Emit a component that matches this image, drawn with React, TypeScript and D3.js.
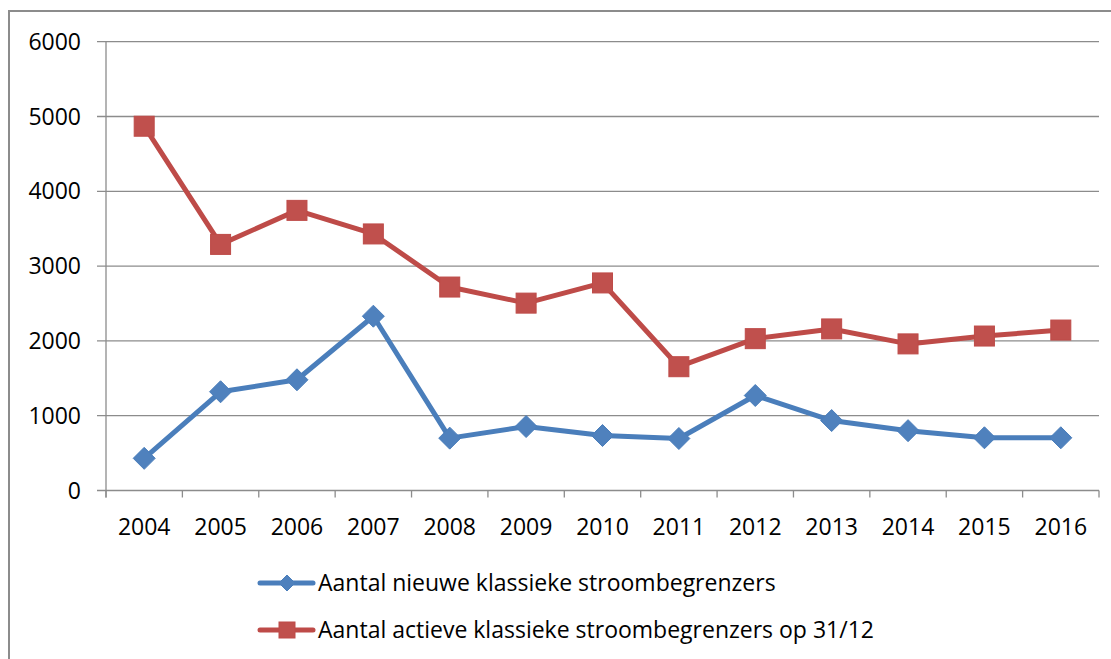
import React from "react";
import * as d3 from "d3";

const years = ["2004", "2005", "2006", "2007", "2008", "2009", "2010", "2011", "2012", "2013", "2014", "2015", "2016"];
const nieuwe = [430, 1320, 1480, 2330, 700, 855, 735, 695, 1270, 935, 800, 705, 705];
const actieve = [4870, 3290, 3745, 3430, 2720, 2505, 2775, 1655, 2030, 2160, 1960, 2065, 2145];
const yTicks = [0, 1000, 2000, 3000, 4000, 5000, 6000];

const BLUE = "#4A7EBB";
const BLUE_FILL = "#4F81BD";
const RED = "#BE4B48";
const RED_FILL = "#C0504D";
const FONT = "'Open Sans', sans-serif";
const FS = 23;

const W = 1111;
const H = 659;
const left = 106;
const right = 1099;
const top = 41.7;
const bottom = 490.5;

const App: React.FC = () => {
  const x = d3.scaleBand<string>().domain(years).range([left, right]);
  const y = d3.scaleLinear().domain([0, 6000]).range([bottom, top]);
  const cx = (d: string) => (x(d) ?? 0) + x.bandwidth() / 2;

  const line = d3.line<number>()
    .x((_, i) => cx(years[i]))
    .y((v) => y(v));

  const diamond = (px: number, py: number, r: number) =>
    `M${px},${py - r}L${px + r},${py}L${px},${py + r}L${px - r},${py}Z`;

  const edges = [...years.map((d) => x(d) ?? 0), right];

  return (
    <svg width={W} height={H} style={{ position: "absolute", left: 0, top: 0, background: "#fff" }}>
      <rect x={9} y={11} width={W + 10} height={H + 10} fill="#fff" stroke="#8c8c8c" strokeWidth={2} />

      {yTicks.map((t) => (
        <g key={t}>
          <line x1={97} x2={right} y1={y(t)} y2={y(t)} stroke="#8c8c8c" strokeWidth={1.3} />
          <text x={81} y={y(t)} dy="0.35em" textAnchor="end" fontFamily={FONT} fontSize={FS} fill="#000">
            {t}
          </text>
        </g>
      ))}

      <line x1={left} x2={left} y1={top} y2={bottom + 7} stroke="#8c8c8c" strokeWidth={1.3} />
      {edges.map((e, i) => (
        <line key={i} x1={e} x2={e} y1={bottom} y2={bottom + 7} stroke="#8c8c8c" strokeWidth={1.3} />
      ))}
      {years.map((d) => (
        <text key={d} x={cx(d)} y={527} dy="0.35em" textAnchor="middle" fontFamily={FONT} fontSize={FS} fill="#000">
          {d}
        </text>
      ))}

      <path d={line(actieve) ?? ""} fill="none" stroke={RED} strokeWidth={5} strokeLinejoin="round" />
      {actieve.map((v, i) => (
        <rect key={i} x={cx(years[i]) - 10} y={y(v) - 10} width={20} height={20} fill={RED_FILL} stroke={RED} strokeWidth={1} />
      ))}

      <path d={line(nieuwe) ?? ""} fill="none" stroke={BLUE} strokeWidth={5} strokeLinejoin="round" />
      {nieuwe.map((v, i) => (
        <path key={i} d={diamond(cx(years[i]), y(v), 11)} fill={BLUE_FILL} stroke={BLUE} strokeWidth={1} />
      ))}

      <g>
        <line x1={260} x2={313} y1={583} y2={583} stroke={BLUE} strokeWidth={5} strokeLinecap="round" />
        <path d={diamond(287, 583, 8)} fill={BLUE_FILL} stroke={BLUE} strokeWidth={1} />
        <text x={318} y={583} dy="0.35em" fontFamily={FONT} fontSize={FS} fill="#000">
          Aantal nieuwe klassieke stroombegrenzers
        </text>
        <line x1={260} x2={313} y1={630} y2={630} stroke={RED} strokeWidth={5} strokeLinecap="round" />
        <rect x={279} y={622} width={16} height={16} fill={RED_FILL} stroke={RED} strokeWidth={1} />
        <text x={318} y={630} dy="0.35em" fontFamily={FONT} fontSize={FS} fill="#000">
          Aantal actieve klassieke stroombegrenzers op 31/12
        </text>
      </g>
    </svg>
  );
};

export default App;
